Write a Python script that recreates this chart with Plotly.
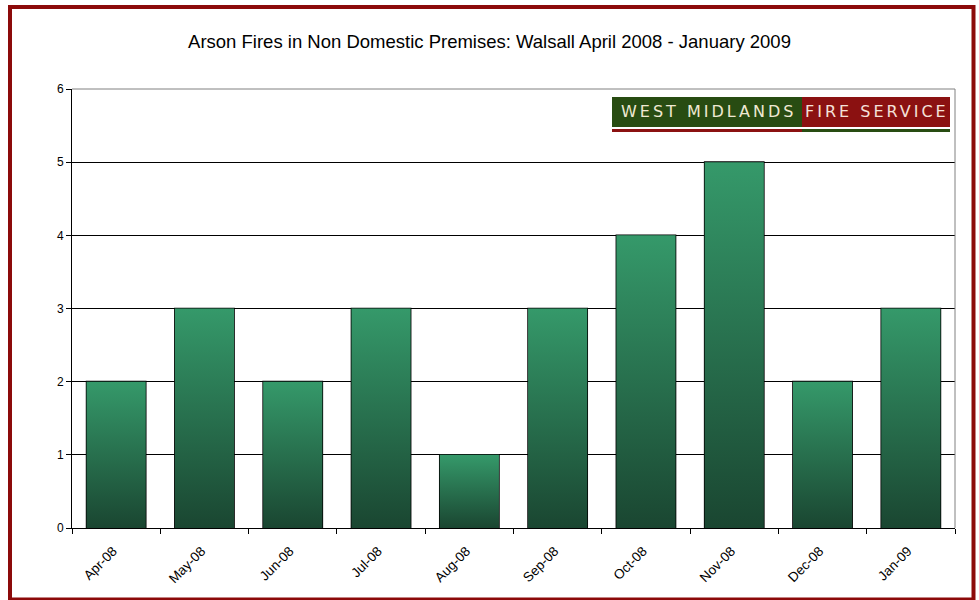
import plotly.graph_objects as go

months = ["Apr-08", "May-08", "Jun-08", "Jul-08", "Aug-08",
          "Sep-08", "Oct-08", "Nov-08", "Dec-08", "Jan-09"]
fires = [2, 3, 2, 3, 1, 3, 4, 5, 2, 3]

dark_green = "#1a4631"
light_green = "#35996a"
frame_red = "#8c0a0a"

bar_w = 0.67
xs = list(range(len(months)))

fig = go.Figure()

# gradient fill for each bar (plotly bars can't do gradients)
for i, v in zip(xs, fires):
    fig.add_trace(go.Scatter(
        x=[i - bar_w / 2, i + bar_w / 2, i + bar_w / 2, i - bar_w / 2, i - bar_w / 2],
        y=[0, 0, v, v, 0],
        mode="lines", line=dict(width=0),
        fill="toself",
        fillgradient=dict(type="vertical",
                          colorscale=[[0, dark_green], [1, light_green]]),
        hoverinfo="skip", showlegend=False,
    ))

# outline bars on top
fig.add_trace(go.Bar(
    x=xs, y=fires, width=bar_w,
    marker=dict(color="rgba(0,0,0,0)", line=dict(color="black", width=1.6)),
    showlegend=False,
))

# pixel -> paper helpers (plot area 72..955 x 89..528)
def px(x):
    return (x - 72) / 883

def py(y):
    return (528 - y) / 439

shapes = [
    # grey top / right border of plot area
    dict(type="line", xref="paper", yref="paper", x0=0, x1=1, y0=1, y1=1,
         line=dict(color="#808080", width=1), layer="above"),
    dict(type="line", xref="paper", yref="paper", x0=1, x1=1, y0=0, y1=1,
         line=dict(color="#808080", width=1), layer="above"),
    # outer chart frame
    dict(type="rect", xref="paper", yref="paper",
         x0=px(10), x1=px(973.5), y0=py(599.5), y1=py(7),
         line=dict(color=frame_red, width=4)),
    # logo
    dict(type="rect", xref="paper", yref="paper",
         x0=px(612), x1=px(802), y0=py(127), y1=py(97),
         fillcolor="#284c12", line=dict(width=0), layer="above"),
    dict(type="rect", xref="paper", yref="paper",
         x0=px(802), x1=px(950), y0=py(127), y1=py(97),
         fillcolor="#8b1111", line=dict(width=0), layer="above"),
    dict(type="rect", xref="paper", yref="paper",
         x0=px(612), x1=px(802), y0=py(132), y1=py(129),
         fillcolor="#8b1111", line=dict(width=0), layer="above"),
    dict(type="rect", xref="paper", yref="paper",
         x0=px(802), x1=px(950), y0=py(132), y1=py(129),
         fillcolor="#284c12", line=dict(width=0), layer="above"),
]

annotations = [
    dict(text='<span style="letter-spacing:3px">WEST MIDLANDS</span>',
         xref="paper", yref="paper", x=px(708), y=py(111.5),
         xanchor="center", yanchor="middle", showarrow=False,
         font=dict(family="DejaVu Sans", size=16, color="#efe9d2")),
    dict(text='<span style="letter-spacing:3px">FIRE SERVICE</span>',
         xref="paper", yref="paper", x=px(877), y=py(111.5),
         xanchor="center", yanchor="middle", showarrow=False,
         font=dict(family="DejaVu Sans", size=16, color="#f5e1da")),
]

fig.update_layout(
    width=979, height=600,
    margin=dict(l=72, r=24, t=89, b=72),
    paper_bgcolor="white", plot_bgcolor="white",
    font=dict(family="Liberation Sans, Arial", size=12, color="black"),
    title=dict(text="Arson Fires in Non Domestic Premises: Walsall April 2008 - January 2009",
               x=0.5, xref="container", xanchor="center",
               y=1 - 42 / 600, yanchor="middle",
               font=dict(size=18.5, color="black")),
    shapes=shapes, annotations=annotations,
    xaxis=dict(range=[-0.5, 9.5], tickvals=xs, ticktext=months,
               tickangle=-45, ticks="", showgrid=False, zeroline=False,
               showline=True, linecolor="black", linewidth=1,
               tickfont=dict(size=13.5), ticklabelstandoff=9,
               ticklabelshift=-3,
               minor=dict(tickvals=[i - 0.5 for i in range(len(months) + 1)],
                          ticks="outside", ticklen=5, tickcolor="black")),
    yaxis=dict(range=[0, 6], dtick=1, ticks="outside", ticklen=5,
               tickcolor="black", showgrid=True, gridcolor="black", gridwidth=1,
               zeroline=False, showline=True, linecolor="black", linewidth=1),
)

fig.write_html("out.html", config={"displayModeBar": False},
               post_script="document.body.style.margin='0';")
